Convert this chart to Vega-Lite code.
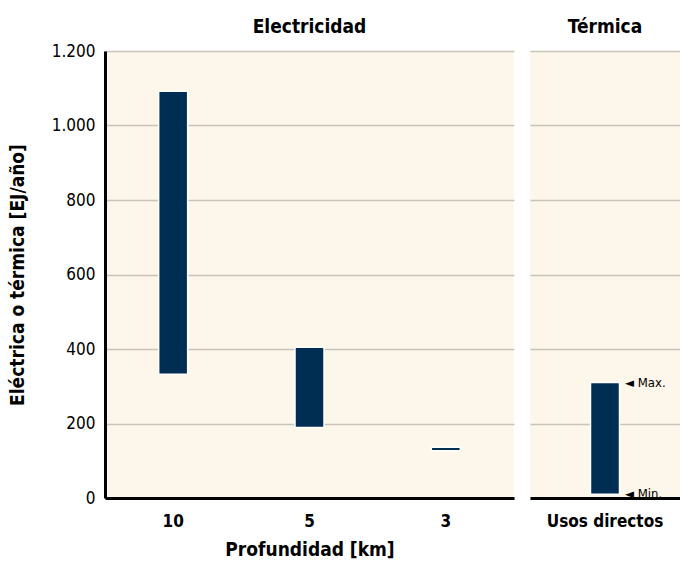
{
  "$schema": "https://vega.github.io/schema/vega-lite/v6.json",
  "padding": {"left": 8, "top": 18, "right": 0, "bottom": 0},
  "background": "white",
  "config": {
    "locale": {"number": {"decimal": ",", "thousands": ".", "grouping": [3], "currency": ["", "€"]}},
    "font": "DejaVu Sans Condensed, Liberation Sans, sans-serif",
    "view": {"fill": "#fdf6ea", "stroke": null},
    "concat": {"spacing": 16},
    "title": {"fontSize": 19, "fontWeight": "bold", "color": "#000000", "frame": "group"},
    "axis": {"labelColor": "#000000", "titleColor": "#000000", "ticks": false, "gridColor": "#c8c4bc", "gridWidth": 1.5, "domainColor": "#000000", "domainWidth": 3}
  },
  "datasets": {
    "elec": [
      {"profundidad": "10", "min": 332, "max": 1092},
      {"profundidad": "5", "min": 189, "max": 405},
      {"profundidad": "3", "min": 127, "max": 136}
    ],
    "term": [
      {"uso": "Usos directos", "min": 10, "max": 310}
    ]
  },
  "hconcat": [
    {
      "width": 409,
      "height": 447,
      "title": {"text": "Electricidad", "offset": 5},
      "data": {"name": "elec"},
      "mark": {"type": "bar", "size": 29, "fill": "#002d52", "stroke": "white", "strokeWidth": 1.5},
      "encoding": {
        "x": {
          "field": "profundidad", "type": "nominal", "sort": ["10", "5", "3"],
          "axis": {"title": "Profundidad [km]", "labelAngle": 0, "labelFontSize": 17, "labelFontWeight": "bold", "labelPadding": 15, "titleFontSize": 19, "titleFontWeight": "bold", "titlePadding": 11, "grid": false}
        },
        "y": {
          "field": "min", "type": "quantitative", "scale": {"domain": [0, 1200], "nice": false},
          "axis": {"title": "Eléctrica o térmica  [EJ/año]", "values": [0, 200, 400, 600, 800, 1000, 1200], "format": ",d", "labelFontSize": 17, "labelPadding": 10, "titleFontSize": 19, "titleFontWeight": "bold", "titlePadding": 24, "grid": true}
        },
        "y2": {"field": "max"}
      }
    },
    {
      "width": 150,
      "height": 447,
      "title": {"text": "Térmica", "offset": 14},
      "data": {"name": "term"},
      "encoding": {
        "x": {
          "field": "uso", "type": "nominal",
          "axis": {"title": null, "labelAngle": 0, "labelFontSize": 17, "labelFontWeight": "bold", "labelPadding": 15, "grid": false}
        },
        "y": {
          "type": "quantitative", "scale": {"domain": [0, 1200], "nice": false},
          "axis": {"title": null, "labels": false, "domain": false, "values": [0, 200, 400, 600, 800, 1000, 1200], "grid": true}
        }
      },
      "layer": [
        {
          "mark": {"type": "bar", "size": 29, "fill": "#002d52", "stroke": "white", "strokeWidth": 1.5},
          "encoding": {"y": {"field": "min", "type": "quantitative"}, "y2": {"field": "max"}}
        },
        {
          "mark": {"type": "text", "text": "◄ Max.", "align": "left", "baseline": "middle", "dx": 20, "fontSize": 13, "color": "#000000"},
          "encoding": {"y": {"field": "max", "type": "quantitative"}}
        },
        {
          "mark": {"type": "text", "text": "◄ Min.", "align": "left", "baseline": "middle", "dx": 20, "fontSize": 13, "color": "#000000"},
          "encoding": {"y": {"field": "min", "type": "quantitative"}}
        }
      ]
    }
  ]
}
